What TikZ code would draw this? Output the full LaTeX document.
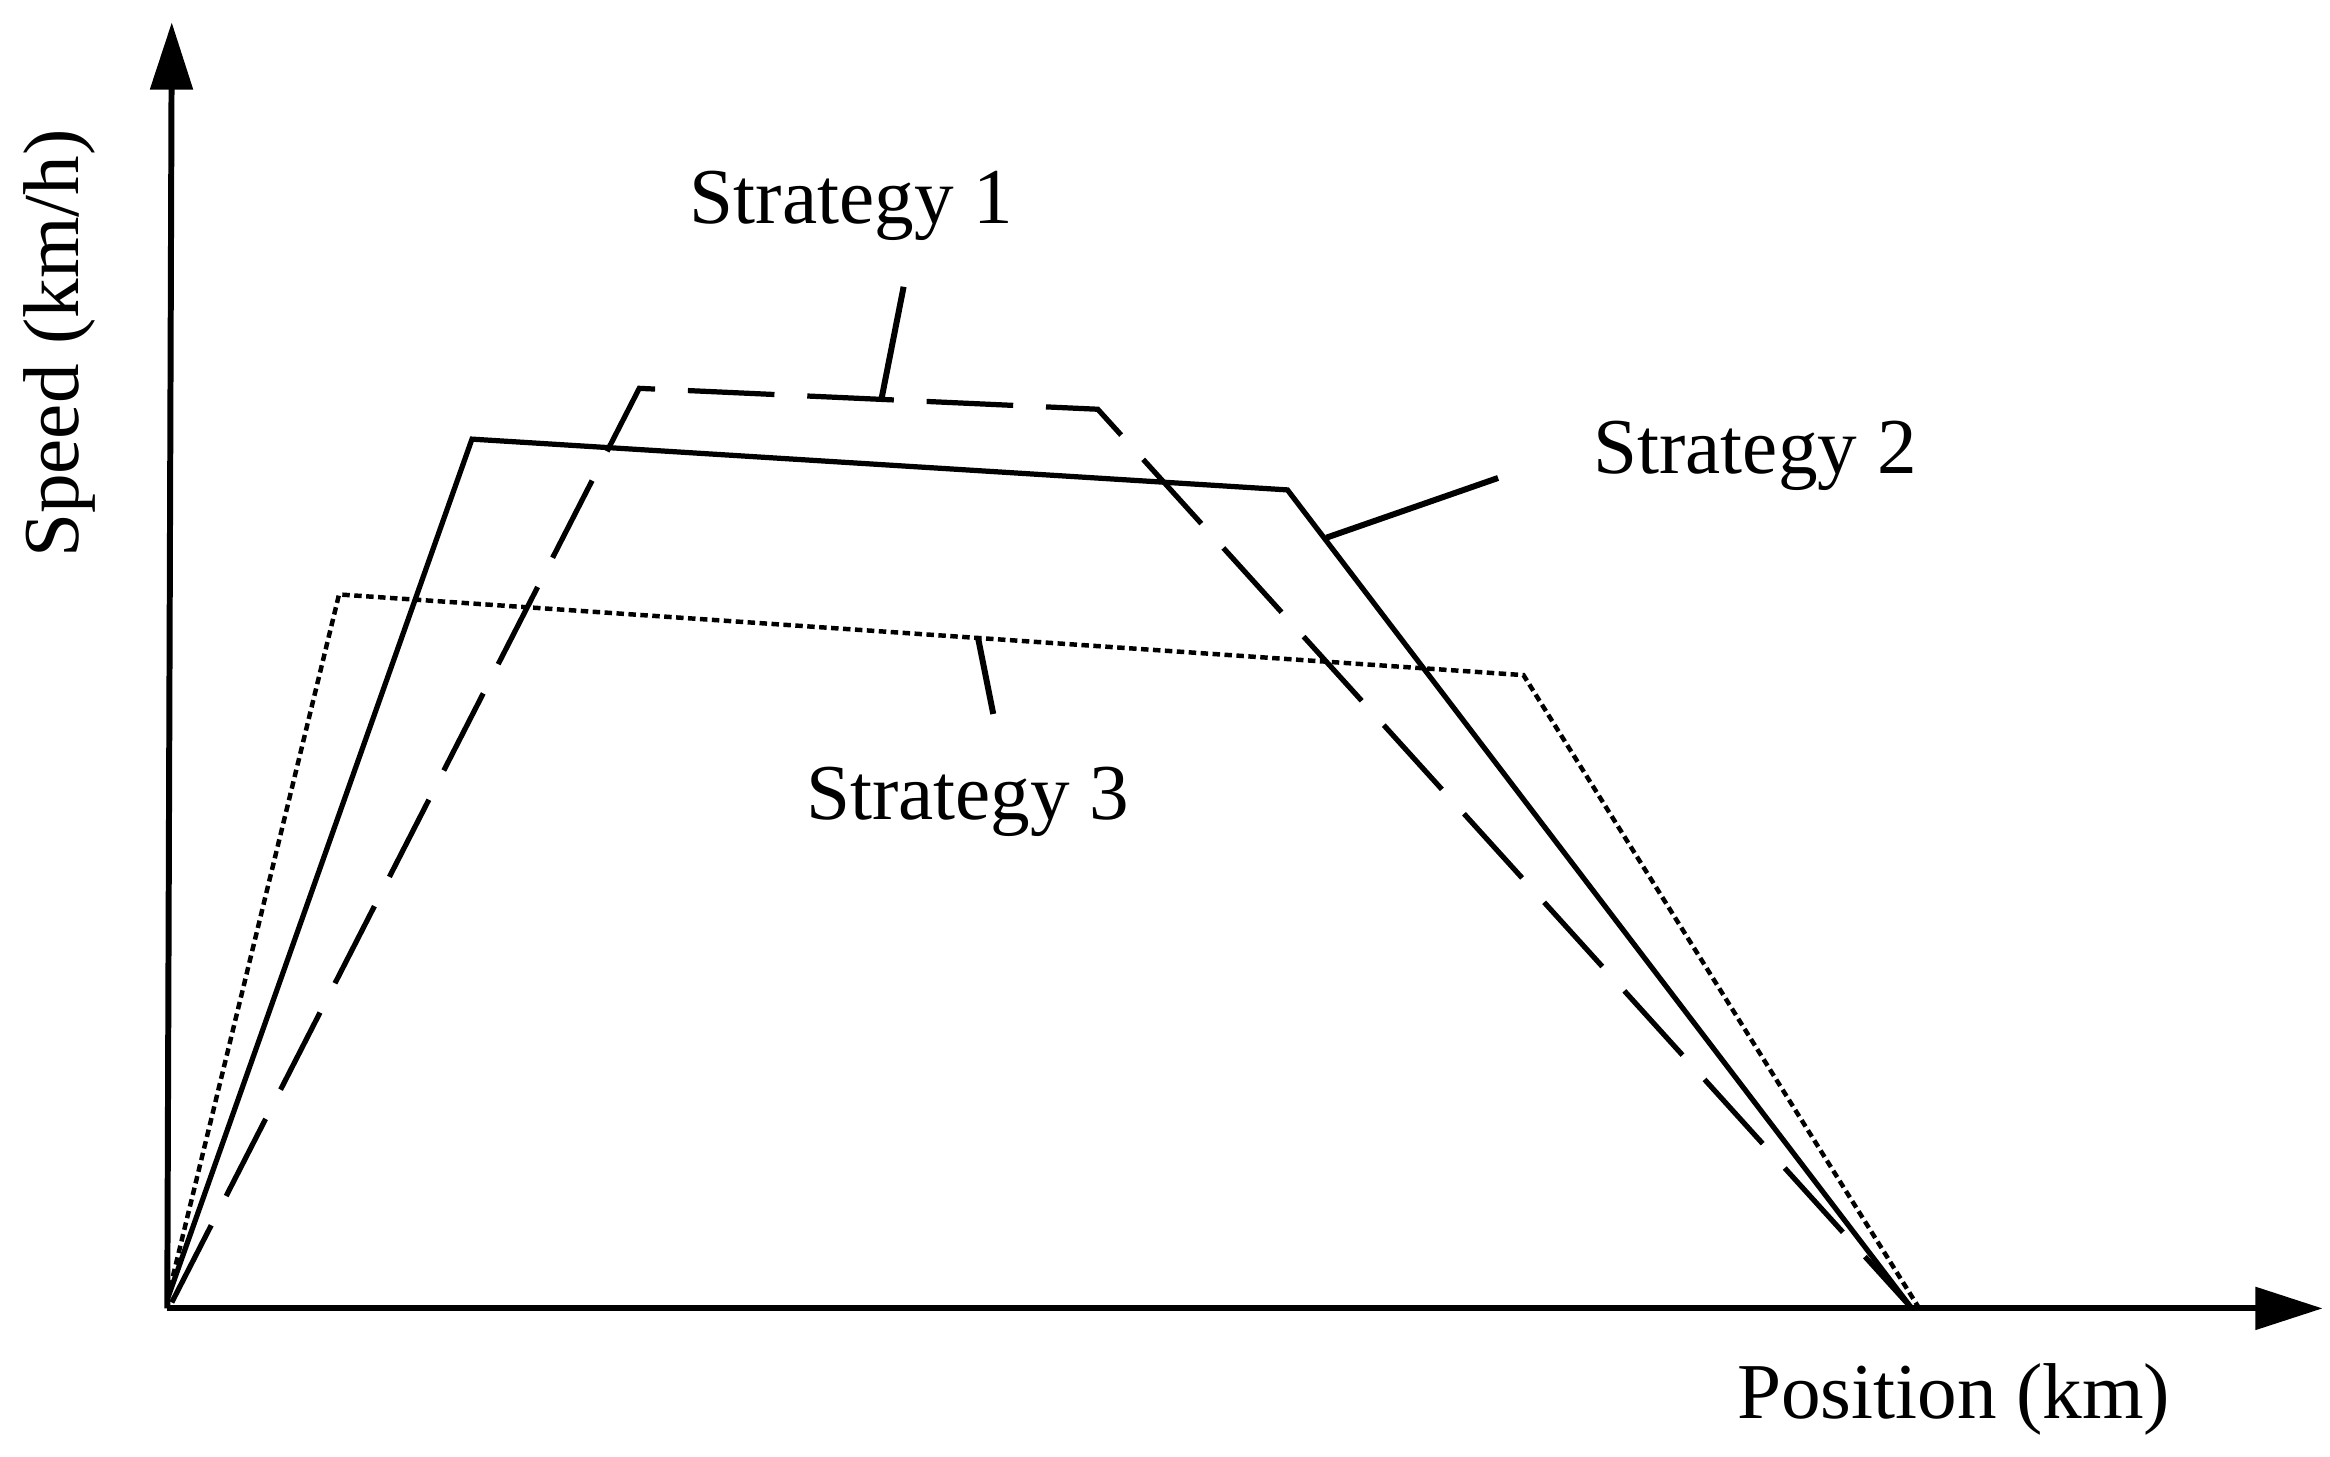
\documentclass[tikz,border=0pt]{standalone}
\usepackage{fontspec}
\setmainfont{Liberation Serif}
\usetikzlibrary{arrows.meta}
\begin{document}
\begin{tikzpicture}[x=1pt,y=-1pt,
  ln/.style={line width=4pt},
  ax/.style={line width=4pt,-{Triangle[length=45pt,width=28pt]}},
  lbl/.style={font=\fontsize{53}{60}\selectfont}]
\useasboundingbox (0,0) rectangle (1560,975);
\coordinate (O) at (112,876);
\coordinate (Y) at (115,15);
\coordinate (X) at (1555,876);
\draw[ax] (O) -- (Y);
\draw[ax] (O) -- (X);
% strategy 2
\coordinate (a0) at (112,870); \coordinate (a1) at (316,294);
\coordinate (a2) at (862,328); \coordinate (a3) at (1280,876);
\draw[ln,line width=3.5pt] (a0) -- (a1) -- (a2) -- (a3);
% strategy 1
\coordinate (b0) at (115,872); \coordinate (b1) at (428,260);
\coordinate (b2) at (735,274); \coordinate (b3) at (1280,876);
\draw[ln,line width=3.5pt,dash pattern=on 58pt off 22pt] (b0) -- (b1) -- (b2) -- (b3);
% strategy 3
\coordinate (c0) at (112,870); \coordinate (c1) at (227,398);
\coordinate (c2) at (1020,452); \coordinate (c3) at (1285,876);
\draw[line width=3pt,dash pattern=on 5pt off 3pt] (c0) -- (c1) -- (c2) -- (c3);
% labels and leaders
\node[lbl] (s1) at (570,138) {Strategy 1};
\node[lbl] (s2) at (1175,305) {Strategy 2};
\node[lbl] (s3) at (648,537) {Strategy 3};
\coordinate (l1a) at (605,192); \coordinate (l1b) at (590,268);
\coordinate (l2a) at (1003,320); \coordinate (l2b) at (888,360);
\coordinate (l3a) at (655,428); \coordinate (l3b) at (665,478);
\draw[ln] (l1a) -- (l1b);
\draw[ln] (l2a) -- (l2b);
\draw[ln] (l3a) -- (l3b);
\node[lbl,rotate=90] (sp) at (40,230) {Speed (km/h)};
\node[lbl] (po) at (1308,937) {Position (km)};
\end{tikzpicture}
\end{document}
